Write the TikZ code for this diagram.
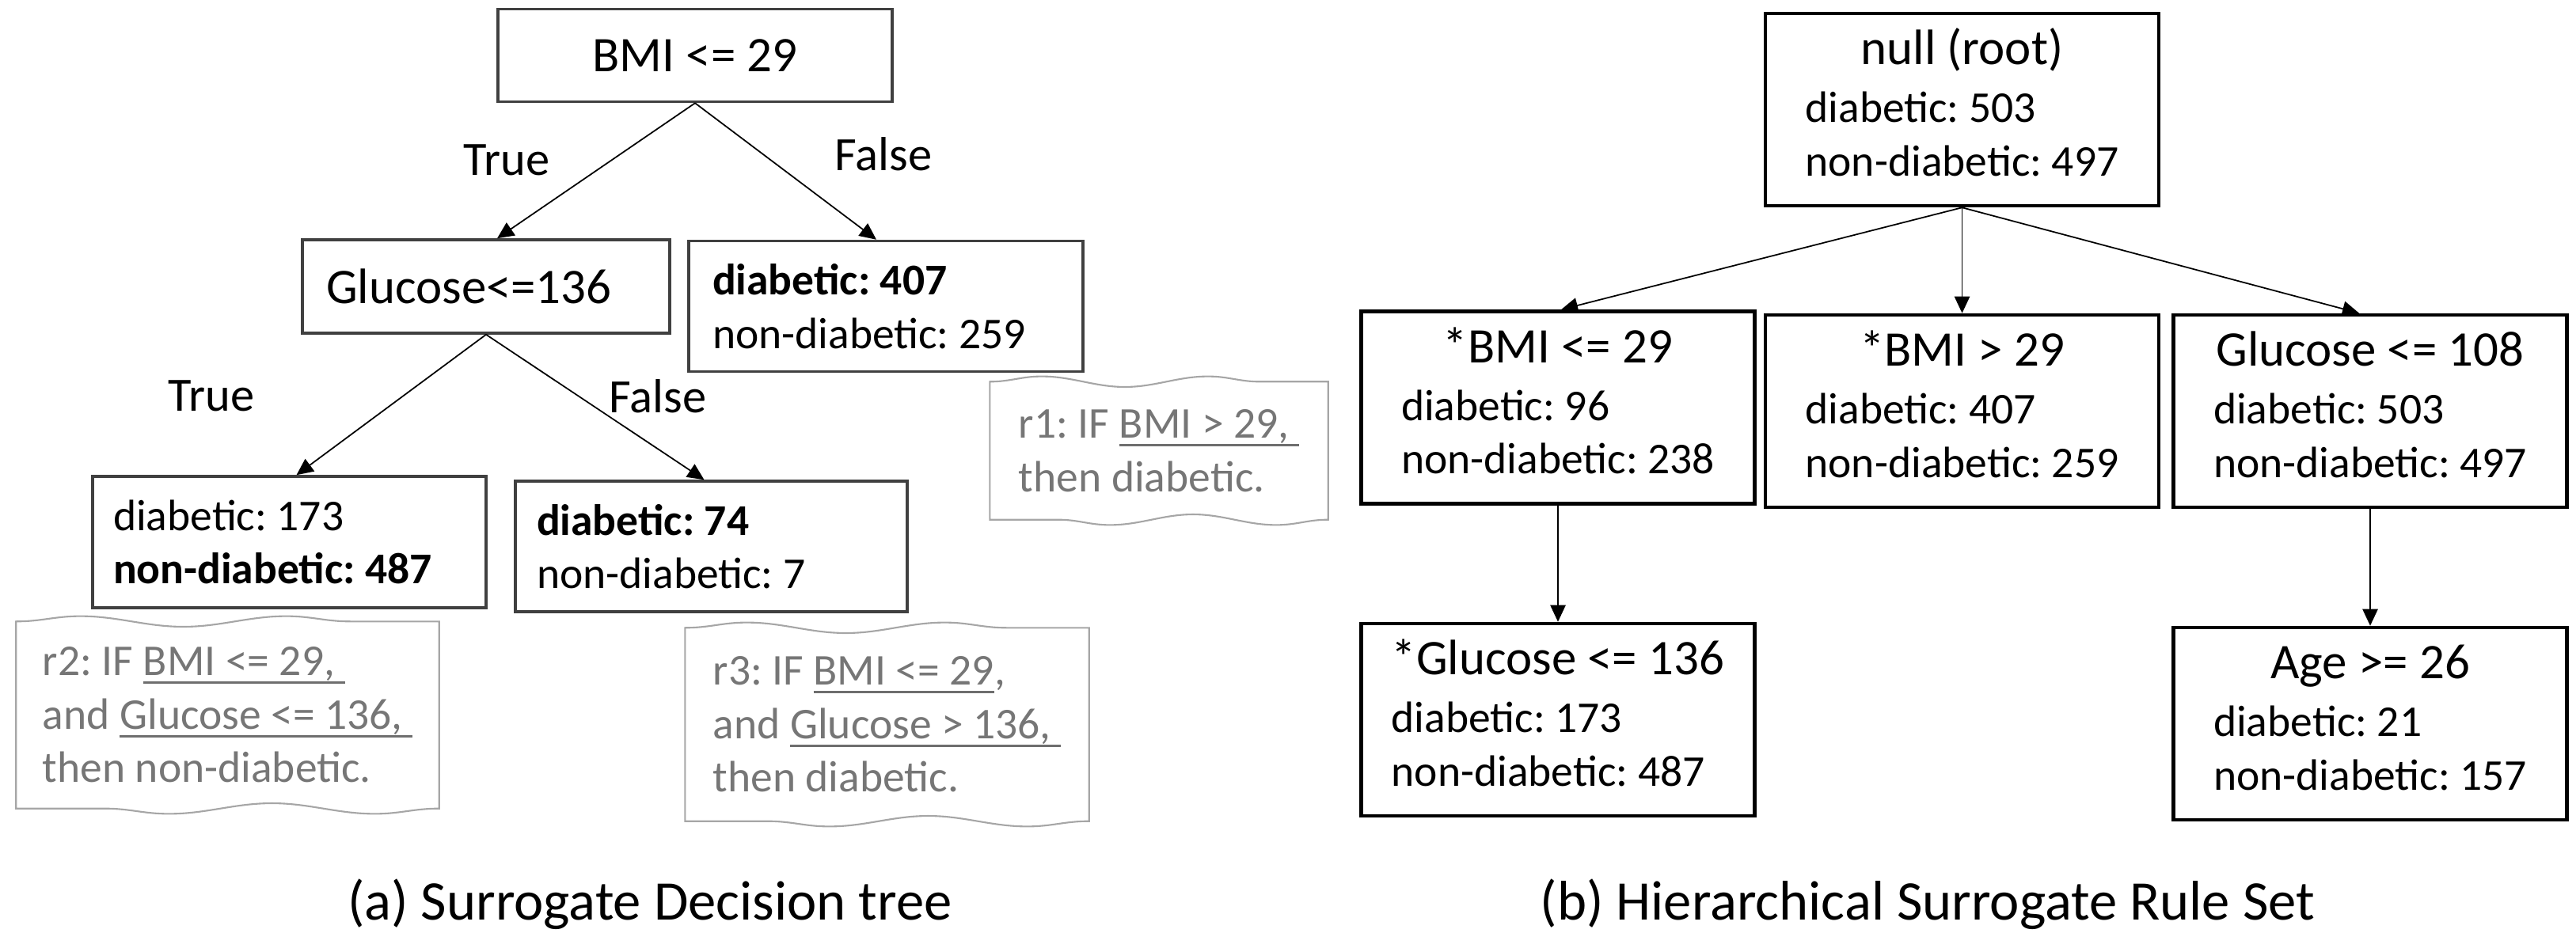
\documentclass[tikz,border=0pt]{standalone}
\usepackage{fontspec}
\setmainfont{Carlito}
\usetikzlibrary{arrows.meta,decorations.pathmorphing}
\definecolor{boxgray}{HTML}{404040}
\definecolor{notegray}{HTML}{A6A6A6}
\definecolor{notetext}{HTML}{767676}
\definecolor{ulgray}{HTML}{6E6E6E}
\newcommand{\titlef}{\fontsize{17.9pt}{21pt}\selectfont}
\newcommand{\bodyf}{\fontsize{15.8pt}{19.2pt}\selectfont}
\newcommand{\cond}[1]{\setbox0\hbox{#1}\rlap{\color{ulgray}\rule[-3pt]{\wd0}{0.85pt}}\box0}
\frenchspacing

\begin{document}
\begin{tikzpicture}[
  every node/.style={execute at begin node={\spaceskip=0pt\xspaceskip=0pt}},
  treenode/.style={draw=boxgray, line width=1pt, inner sep=0pt, font=\bodyf},
  setnode/.style={draw=black, line width=1.3pt, inner sep=0pt, minimum width=4.97cm, minimum height=2.43cm, font=\bodyf},
  rulenote/.style={text=notetext, font=\bodyf, align=left, inner sep=0pt},
  link/.style={-{Triangle[length=6pt,width=5.5pt]}, line width=0.5pt},
  branch/.style={font=\fontsize{17.2pt}{20pt}\selectfont},
  figcap/.style={font=\fontsize{20.1pt}{24pt}\selectfont}
]
\useasboundingbox (0,0) rectangle (32.54,-11.78);

% (a) surrogate decision tree
\node[treenode, minimum width=4.98cm, minimum height=1.17cm, font=\titlef] (bmi) at (8.78,-0.70) {BMI <= 29};
\node[treenode, text width=4.04cm, inner xsep=0.30cm, minimum height=1.18cm, align=left, font=\titlef] (glu) at (6.14,-3.62) {Glucose<=136};
\node[treenode, text width=4.38cm, inner xsep=0.30cm, minimum height=1.65cm, align=left] (dia) at (11.19,-3.87) {\textbf{diabetic: 407}\\non-diabetic: 259};
\node[treenode, text width=4.45cm, inner xsep=0.26cm, minimum height=1.66cm, align=left] (leafa) at (3.655,-6.85) {diabetic: 173\\\textbf{non-diabetic: 487}};
\node[treenode, text width=4.41cm, inner xsep=0.27cm, minimum height=1.65cm, align=left] (leafb) at (8.985,-6.905) {\textbf{diabetic: 74}\\non-diabetic: 7};

\node[branch] (ta) at (6.40,-2.02) {True};
\node[branch] (fa) at (11.16,-1.95) {False};
\node[branch] (tb) at (2.67,-5.00) {True};
\node[branch] (fb) at (8.31,-5.01) {False};

\draw[link] (bmi.south) -- ([xshift=0.14cm]glu.north);
\draw[link] (bmi.south) -- ([xshift=-0.12cm]dia.north);
\draw[link] (glu.south) -- ([xshift=0.09cm]leafa.north);
\draw[link] (glu.south) -- ([xshift=-0.09cm]leafb.north);

% extracted rules
\node[rulenote, minimum width=4.26cm, minimum height=1.73cm] (ra) at (14.64,-5.695) {r1: IF \cond{BMI > 29, }\\then diabetic.};
\node[rulenote, minimum width=5.33cm, minimum height=2.35cm] (rb) at (2.875,-9.035) {r2: IF \cond{BMI <= 29, }\\and \cond{Glucose <= 136, }\\then non-diabetic.};
\node[rulenote, minimum width=5.09cm, minimum height=2.43cm] (rc) at (11.205,-9.155) {r3: IF \cond{BMI <= 29},\\and \cond{Glucose > 136, }\\then diabetic.};
\foreach \r/\s in {ra/2.1,rb/2.6,rc/2.5}
  \draw[notegray, line width=0.6pt, decoration={snake, amplitude=1.9pt, segment length=\s cm}]
    (\r.south west) -- (\r.north west) decorate {-- (\r.north east)} -- (\r.south east) decorate {-- (\r.south west)} -- cycle;

\node[figcap] (capa) at (8.21,-11.43) {(a) Surrogate Decision tree};

% (b) hierarchical surrogate rule set
\node[setnode] (root) at (24.785,-1.385) {\begin{tabular}{@{}l@{}}\multicolumn{1}{@{}c@{}}{\titlef null (root)}\\[1.6pt] diabetic: 503\\ non-diabetic: 497\end{tabular}};
\node[setnode] (ca) at (19.68,-5.15) {\begin{tabular}{@{}l@{}}\multicolumn{1}{@{}c@{}}{\titlef *BMI <= 29}\\[1.6pt] diabetic: 96\\ non-diabetic: 238\end{tabular}};
\node[setnode] (cb) at (24.785,-5.195) {\begin{tabular}{@{}l@{}}\multicolumn{1}{@{}c@{}}{\titlef *BMI > 29}\\[1.6pt] diabetic: 407\\ non-diabetic: 259\end{tabular}};
\node[setnode] (cc) at (29.94,-5.195) {\begin{tabular}{@{}l@{}}\multicolumn{1}{@{}c@{}}{\titlef Glucose <= 108}\\[1.6pt] diabetic: 503\\ non-diabetic: 497\end{tabular}};
\node[setnode] (ga) at (19.68,-9.095) {\begin{tabular}{@{}l@{}}\multicolumn{1}{@{}c@{}}{\titlef *Glucose <= 136}\\[1.6pt] diabetic: 173\\ non-diabetic: 487\end{tabular}};
\node[setnode] (gb) at (29.94,-9.145) {\begin{tabular}{@{}l@{}}\multicolumn{1}{@{}c@{}}{\titlef Age >= 26}\\[1.6pt] diabetic: 21\\ non-diabetic: 157\end{tabular}};

\foreach \c/\s in {ca/0.04,cb/0,cc/-0.14}
  \draw[link] (root.south) -- ([xshift=\s cm]\c.north);
\draw[link] (ca.south) -- (ga.north);
\draw[link] (cc.south) -- (gb.north);

\node[figcap] (capb) at (24.35,-11.43) {(b) Hierarchical Surrogate Rule Set};
\end{tikzpicture}
\end{document}
